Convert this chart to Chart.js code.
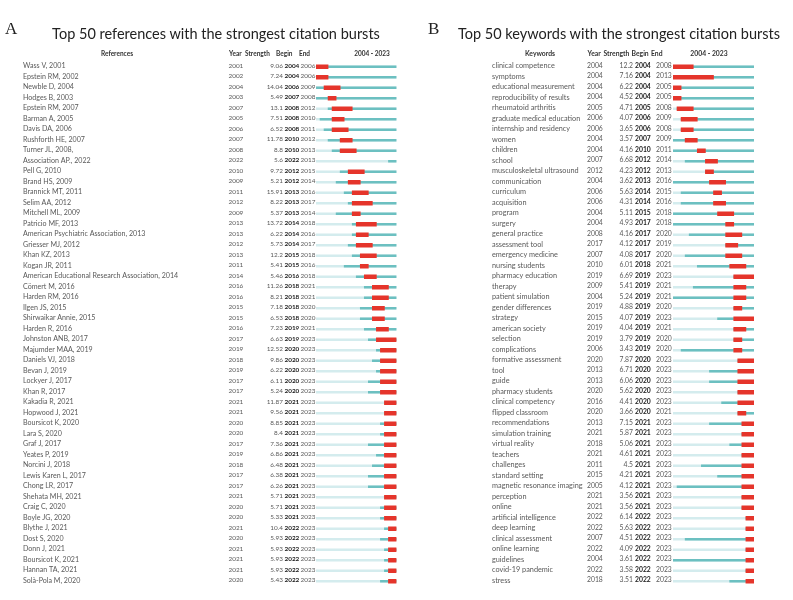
<!DOCTYPE html>
<html>
<head>
<meta charset="utf-8">
<script src="https://cdn.jsdelivr.net/npm/chart.js@4.4.1/dist/chart.umd.min.js"></script>
<style>
  body { margin: 0; background: #fff; width: 793px; height: 600px; position: relative; overflow: hidden; }
  .panel { position: absolute; top: 0; height: 600px; }
  .letter { position: absolute; font-family: "Liberation Serif"; font-size: 17px; color: #222; line-height: 1; }
  .title { position: absolute; font-family: Lato; font-size: 14.5px; color: #222; white-space: nowrap; transform: translateX(-50%); line-height: 1; }
</style>
</head>
<body>
<div class="panel" style="left:0;width:400px"><canvas id="refChart"></canvas></div>
<div class="panel" style="left:400px;width:393px"><canvas id="kwChart"></canvas></div>
<div class="letter" style="left:5px;top:20px">A</div>
<div class="title" style="left:216px;top:27px">Top 50 references with the strongest citation bursts</div>
<div class="letter" style="left:428px;top:20px">B</div>
<div class="title" style="left:619px;top:27px">Top 50 keywords with the strongest citation bursts</div>
<script>
const yearMin = 2004;
const yearMax = 2023;

const refLabels = ["Wass V, 2001", "Epstein RM, 2002", "Newble D, 2004", "Hodges B, 2003", "Epstein RM, 2007", "Barman A, 2005", "Davis DA, 2006", "Rushforth HE, 2007", "Turner JL, 2008,", "Association AP., 2022", "Pell G, 2010", "Brand HS, 2009", "Brannick MT, 2011", "Selim AA, 2012", "Mitchell ML, 2009", "Patricio MF, 2013", "American Psychiatric Association, 2013", "Griesser MJ, 2012", "Khan KZ, 2013", "Kogan JR, 2011", "American Educational Research Association, 2014", "Cömert M, 2016", "Harden RM, 2016", "Ilgen JS, 2015", "Shirwaikar Annie, 2015", "Harden R, 2016", "Johnston ANB, 2017", "Majumder MAA, 2019", "Daniels VJ, 2018", "Bevan J, 2019", "Lockyer J, 2017", "Khan R, 2017", "Kakadia R, 2021", "Hopwood J, 2021", "Boursicot K, 2020", "Lara S, 2020", "Graf J, 2017", "Yeates P, 2019", "Norcini J, 2018", "Lewis Karen L, 2017", "Chong LR, 2017", "Shehata MH, 2021", "Craig C, 2020", "Boyle JG, 2020", "Blythe J, 2021", "Dost S, 2020", "Donn J, 2021", "Boursicot K, 2021", "Hannan TA, 2021", "Solà-Pola M, 2020"];
const refYear = [2001, 2002, 2004, 2003, 2007, 2005, 2006, 2007, 2008, 2022, 2010, 2009, 2011, 2012, 2009, 2013, 2013, 2012, 2013, 2011, 2014, 2016, 2016, 2015, 2015, 2016, 2017, 2019, 2018, 2019, 2017, 2017, 2021, 2021, 2020, 2020, 2017, 2019, 2018, 2017, 2017, 2021, 2020, 2020, 2021, 2020, 2021, 2021, 2021, 2020];
const refStrength = ["9.06", "7.24", "14.04", "5.49", "13.1", "7.51", "6.52", "11.78", "8.8", "5.6", "9.72", "5.21", "15.91", "8.22", "5.37", "13.72", "6.22", "5.73", "12.2", "5.41", "5.46", "11.26", "8.21", "7.18", "6.53", "7.23", "6.63", "12.52", "9.86", "6.22", "6.11", "5.24", "11.87", "9.56", "8.85", "8.4", "7.36", "6.86", "6.48", "6.38", "6.26", "5.71", "5.71", "5.33", "10.4", "5.93", "5.93", "5.93", "5.93", "5.43"];
const refBegin = [2004, 2004, 2006, 2007, 2008, 2008, 2008, 2010, 2010, 2022, 2012, 2012, 2013, 2013, 2013, 2014, 2014, 2014, 2015, 2015, 2016, 2018, 2018, 2018, 2018, 2019, 2019, 2020, 2020, 2020, 2020, 2020, 2021, 2021, 2021, 2021, 2021, 2021, 2021, 2021, 2021, 2021, 2021, 2021, 2022, 2022, 2022, 2022, 2022, 2022];
const refEnd = [2006, 2006, 2009, 2008, 2012, 2010, 2011, 2012, 2013, 2013, 2015, 2014, 2016, 2017, 2014, 2018, 2016, 2017, 2018, 2016, 2018, 2021, 2021, 2020, 2020, 2021, 2023, 2023, 2023, 2023, 2023, 2023, 2023, 2023, 2023, 2023, 2023, 2023, 2023, 2023, 2023, 2023, 2023, 2023, 2023, 2023, 2023, 2023, 2023, 2023];

const kwLabels = ["clinical competence", "symptoms", "educational measurement", "reproducibility of results", "rheumatoid arthritis", "graduate medical education", "internship and residency", "women", "children", "school", "musculoskeletal ultrasound", "communication", "curriculum", "acquisition", "program", "surgery", "general practice", "assessment tool", "emergency medicine", "nursing students", "pharmacy education", "therapy", "patient simulation", "gender differences", "strategy", "american society", "selection", "complications", "formative assessment", "tool", "guide", "pharmacy students", "clinical competency", "flipped classroom", "recommendations", "simulation training", "virtual reality", "teachers", "challenges", "standard setting", "magnetic resonance imaging", "perception", "online", "artificial intelligence", "deep learning", "clinical assessment", "online learning", "guidelines", "covid-19 pandemic", "stress"];
const kwYear = [2004, 2004, 2004, 2004, 2005, 2006, 2006, 2004, 2004, 2007, 2012, 2004, 2006, 2006, 2004, 2004, 2008, 2017, 2007, 2010, 2019, 2009, 2004, 2019, 2015, 2019, 2019, 2006, 2020, 2013, 2013, 2020, 2016, 2020, 2013, 2021, 2018, 2021, 2011, 2015, 2005, 2021, 2021, 2022, 2022, 2007, 2022, 2004, 2022, 2018];
const kwStrength = ["12.2", "7.16", "6.22", "4.52", "4.71", "4.07", "3.65", "3.57", "4.16", "6.68", "4.23", "3.62", "5.63", "4.31", "5.11", "4.93", "4.16", "4.12", "4.08", "6.01", "6.69", "5.41", "5.24", "4.88", "4.07", "4.04", "3.79", "3.43", "7.87", "6.71", "6.06", "5.62", "4.41", "3.66", "7.15", "5.87", "5.06", "4.61", "4.5", "4.21", "4.12", "3.56", "3.56", "6.14", "5.63", "4.51", "4.09", "3.61", "3.58", "3.51"];
const kwBegin = [2004, 2004, 2004, 2004, 2005, 2006, 2006, 2007, 2010, 2012, 2012, 2013, 2014, 2014, 2015, 2017, 2017, 2017, 2017, 2018, 2019, 2019, 2019, 2019, 2019, 2019, 2019, 2019, 2020, 2020, 2020, 2020, 2020, 2020, 2021, 2021, 2021, 2021, 2021, 2021, 2021, 2021, 2021, 2022, 2022, 2022, 2022, 2022, 2022, 2022];
const kwEnd = [2008, 2013, 2005, 2005, 2008, 2009, 2008, 2009, 2011, 2014, 2013, 2016, 2015, 2016, 2018, 2018, 2020, 2019, 2020, 2021, 2023, 2021, 2021, 2020, 2023, 2021, 2020, 2020, 2023, 2023, 2023, 2023, 2023, 2021, 2023, 2023, 2023, 2023, 2023, 2023, 2023, 2023, 2023, 2023, 2023, 2023, 2023, 2023, 2023, 2023];

const textFont = "Lato";

// draws the Year / Strength / Begin / End columns and the header row
const columnsPlugin = (col, year, strength, begin, end) => ({
  id: "columns",
  afterDraw(chart) {
    const ctx = chart.ctx;
    const yScale = chart.scales.y;
    ctx.save();
    ctx.textBaseline = "middle";
    ctx.fillStyle = "#333";
    ctx.font = `bold ${col.headSize}px ${textFont}`;
    col.headers.forEach((h) => {
      ctx.textAlign = h.align;
      ctx.fillText(h.text, h.x, 53.5);
    });
    for (let i = 0; i < year.length; i++) {
      const py = yScale.getPixelForValue(i) - 1;
      ctx.font = `${col.numSize}px ${textFont}`;
      ctx.fillStyle = "#595959";
      ctx.textAlign = "left";
      ctx.fillText(year[i], col.year, py);
      ctx.fillText(end[i], col.end, py);
      ctx.textAlign = "right";
      ctx.fillText(strength[i], col.strength, py);
      ctx.textAlign = "left";
      ctx.font = `bold ${col.numSize}px ${textFont}`;
      ctx.fillStyle = "#222";
      ctx.fillText(begin[i], col.begin, py);
    }
    ctx.restore();
  },
});

const burstChart = (canvasId, labels, year, strength, begin, end, col) => {
  const burst = begin.map((b, i) => (end[i] >= b ? [b, end[i] + 1] : null));
  const cited = year.map((y) => [Math.max(y, yearMin), yearMax + 1]);
  const light = labels.map(() => [yearMin, yearMax + 1]);
  return new Chart(document.getElementById(canvasId), {
    type: "bar",
    data: {
      labels: labels,
      datasets: [
        { label: "Burst", data: burst, backgroundColor: "#e5352b", barThickness: 4, grouped: false },
        { label: "Cited", data: cited, backgroundColor: "#6cc0c1", barThickness: 2, grouped: false },
        { label: "Before", data: light, backgroundColor: "#d4ecee", barThickness: 2, grouped: false },
      ],
    },
    options: {
      indexAxis: "y",
      responsive: true,
      maintainAspectRatio: false,
      animation: false,
      layout: { padding: { left: col.left, right: col.right, top: 61.5, bottom: 13.5 } },
      plugins: { legend: { display: false }, tooltip: { enabled: false } },
      scales: {
        x: { type: "linear", min: yearMin, max: yearMax + 1, display: false },
        y: {
          grid: { display: false },
          border: { display: false },
          ticks: {
            autoSkip: false,
            crossAlign: "far",
            labelOffset: -1,
            color: "#595959",
            font: { family: textFont, size: col.nameSize },
          },
          afterFit: (axis) => {
            axis.width = col.axisWidth;
          },
        },
      },
    },
    plugins: [columnsPlugin(col, year, strength, begin, end)],
  });
};

burstChart("refChart", refLabels, refYear, refStrength, refBegin, refEnd, {
  left: 23,
  axisWidth: 293,
  right: 3.5,
  nameSize: 7.1,
  numSize: 6.4,
  headSize: 6.5,
  year: 228.5,
  strength: 283,
  begin: 284.5,
  end: 300.6,
  headers: [
    { text: "References", x: 117, align: "center" },
    { text: "Year", x: 229, align: "left" },
    { text: "Strength", x: 245, align: "left" },
    { text: "Begin", x: 276, align: "left" },
    { text: "End", x: 299, align: "left" },
    { text: "2004 - 2023", x: 372, align: "center" },
  ],
});

burstChart("kwChart", kwLabels, kwYear, kwStrength, kwBegin, kwEnd, {
  left: 92,
  axisWidth: 181,
  right: 39,
  nameSize: 7.3,
  numSize: 6.8,
  headSize: 6.8,
  year: 187,
  strength: 233,
  begin: 235,
  end: 256,
  headers: [
    { text: "Keywords", x: 140, align: "center" },
    { text: "Year", x: 187.5, align: "left" },
    { text: "Strength", x: 203.5, align: "left" },
    { text: "Begin", x: 231.5, align: "left" },
    { text: "End", x: 251, align: "left" },
    { text: "2004 - 2023", x: 309, align: "center" },
  ],
});
</script>
</body>
</html>
